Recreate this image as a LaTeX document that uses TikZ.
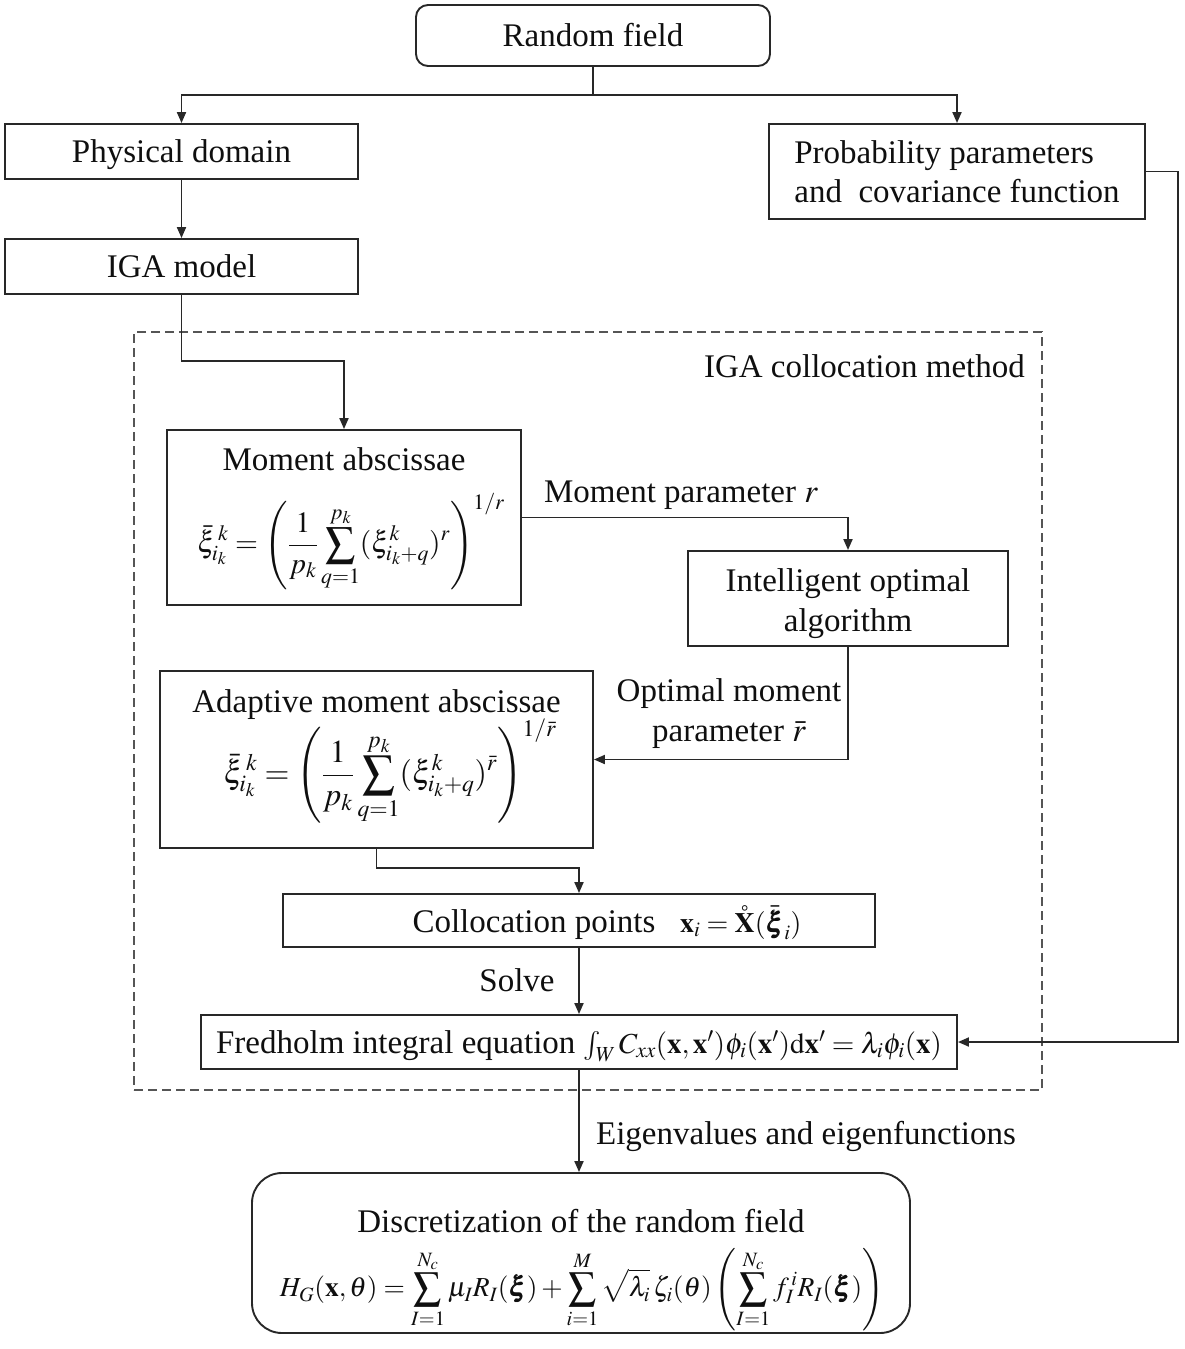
\documentclass[tikz,border=0pt]{standalone}
\usepackage{amsmath}
\usepackage{mathptmx}
\usepackage{bm}
\usepackage[no-math]{fontspec}
\setmainfont{Liberation Serif}
\usetikzlibrary{arrows.meta}
\definecolor{linec}{RGB}{40,40,40}
\definecolor{dashc}{RGB}{85,85,85}
\definecolor{textc}{RGB}{15,15,15}
\newcommand{\mfs}[1]{\fontsize{#1}{#1}\selectfont}
\begin{document}
\begin{tikzpicture}[x=1pt,y=-1pt,
  font=\fontsize{33}{39}\selectfont, text=textc,
  box/.style={draw=linec, line width=1.9pt, inner sep=0pt},
  conn/.style={draw=linec, line width=1.9pt},
  arr/.style={draw=linec, line width=1.9pt, -{Triangle[length=11pt,width=9pt]}},
  lab/.style={inner sep=0pt},
  tx/.style={text height=22pt, text depth=0pt}]
\useasboundingbox (0,0) rectangle (1184,1349);

% dashed frame
\node[draw=dashc, dash pattern=on 9pt off 5pt, line width=1.9pt, inner sep=0pt,
  minimum width=908pt, minimum height=758pt] (frame) at (588,711) {};
\node[lab, tx, anchor=east] (framelab) at (1025,366) {IGA collocation method};

% boxes
\node[box, tx, rounded corners=12pt, minimum width=354pt, minimum height=61pt] (rf) at (593,35.5) {Random field};
\node[box, tx, minimum width=353pt, minimum height=55pt] (phys) at (181.5,151.5) {Physical domain};
\node[box, tx, minimum width=353pt, minimum height=55pt] (iga) at (181.5,266.5) {IGA model};
\node[box, minimum width=376pt, minimum height=95pt, align=left] (prob) at (957,171.5) {Probability parameters\\and\ \ covariance function};

\node[box, minimum width=354pt, minimum height=175pt] (mom) at (344,517.5) {};
\node[lab, tx] (momT) at (344,459) {Moment abscissae};
\node[lab, font=\mfs{29.5}] (momF) at (351,542) {$\displaystyle \bar{\xi}_{i_k}^{\,k}=\left(\frac{1}{p_k}\sum_{q=1}^{p_k}(\xi_{i_k+q}^{k})^{r}\right)^{1/r}$};

\node[box, minimum width=320pt, minimum height=95pt] (intel) at (848,598.5) {};
\node[lab, align=center, font=\fontsize{33}{40}\selectfont] (intelT) at (848,604) {Intelligent optimal\\algorithm};

\node[box, minimum width=433pt, minimum height=177pt] (adapt) at (376.5,759.5) {};
\node[lab, tx] (adaptT) at (376.5,701) {Adaptive moment abscissae};
\node[lab, font=\mfs{32}] (adaptF) at (390,772) {$\displaystyle \bar{\xi}_{i_k}^{\,k}=\left(\frac{1}{p_k}\sum_{q=1}^{p_k}(\xi_{i_k+q}^{k})^{\bar r}\right)^{1/\bar r}$};

\node[box, minimum width=592pt, minimum height=53pt] (coll) at (579,920.5) {};
\node[lab, tx] (collT) at (607,921) {Collocation points\ \ \ {\mfs{28}$\mathbf{x}_i=\mathring{\mathbf{X}}(\bar{\bm{\xi}}_i)$}};

\node[box, tx, minimum width=756pt, minimum height=54pt] (fred) at (579,1042) {Fredholm integral equation {\mfs{29}$\int_{W} C_{xx}(\mathbf{x},\mathbf{x}')\phi_i(\mathbf{x}')\mathrm{d}\mathbf{x}'=\lambda_i\phi_i(\mathbf{x})$}};

\node[box, rounded corners=30pt, minimum width=658pt, minimum height=160pt] (disc) at (581,1253) {};
\node[lab, tx] (discT) at (581,1221) {Discretization of the random field};
\node[lab, font=\mfs{27.5}] (discF) at (582,1290) {$\displaystyle H_G(\mathbf{x},\theta)=\sum_{I=1}^{N_c}\mu_I R_I(\bm{\xi})+\sum_{i=1}^{M}\sqrt{\lambda_i}\,\zeta_i(\theta)\left(\sum_{I=1}^{N_c} f_I^{\,i} R_I(\bm{\xi})\right)$};

% labels on connectors
\node[lab, tx] (mplab) at (681,491) {Moment parameter $r$};
\node[lab, align=center, font=\fontsize{33}{40}\selectfont] (optlab) at (729,714) {Optimal moment\\parameter $\bar r$};
\node[lab, tx] (solvelab) at (517,980) {Solve};
\node[lab, tx] (eiglab) at (806,1133) {Eigenvalues and eigenfunctions};

% connectors
\coordinate (split) at (593,95);
\draw[conn] (rf.south) -- (split);
\draw[arr] (split) -| (phys.north);
\draw[arr] (split) -| (prob.north);
\draw[arr] (phys.south) -- (iga.north);
\coordinate (c1) at (181.5,361);
\draw[arr] (iga.south) -- (c1) -| (mom.north);
\draw[arr] (mom.east) -| (intel.north);
\draw[arr] (intel.south) |- (adapt.east);
\coordinate (c2) at (376.5,868);
\draw[arr] (adapt.south) -- (c2) -| (coll.north);
\draw[arr] (coll.south) -- (fred.north);
\coordinate (c3) at (1178,171.5);
\draw[arr] (prob.east) -- (c3) |- (fred.east);
\draw[arr] (fred.south) -- (fred.south |- disc.north);
\end{tikzpicture}
\end{document}
